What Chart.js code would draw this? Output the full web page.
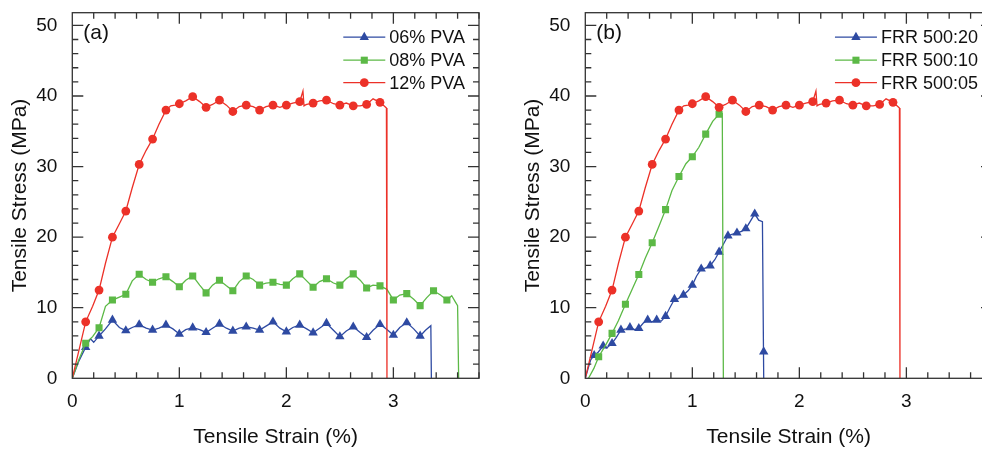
<!DOCTYPE html>
<html>
<head>
<meta charset="utf-8">
<script src="https://cdn.jsdelivr.net/npm/chart.js@4.4.1/dist/chart.umd.min.js"></script>
<style>
  html, body { margin: 0; padding: 0; background: #fff; }
  body { width: 982px; height: 450px; overflow: hidden; position: relative; }
  .panel { position: absolute; top: 0; width: 491px; height: 450px; }
</style>
</head>
<body>
<div class="panel" style="left:0"><canvas id="chartA" width="491" height="450"></canvas></div>
<div class="panel" style="left:513px"><canvas id="chartB" width="491" height="450"></canvas></div>
<script>
// 12% PVA  /  FRR 500:05 (same curve in both panels)
const redMarkX = [0.125, 0.25, 0.375, 0.5, 0.625, 0.75, 0.875, 1.0, 1.125, 1.25, 1.375, 1.5, 1.625, 1.75, 1.875, 2.0, 2.125, 2.25, 2.375, 2.5, 2.625, 2.75, 2.875];
const redMarkY = [8.0, 12.5, 20.0, 23.7, 30.3, 33.9, 38.0, 38.9, 39.9, 38.4, 39.4, 37.8, 38.7, 38.0, 38.7, 38.7, 39.2, 39.0, 39.4, 38.7, 38.6, 38.8, 39.1];
const redLineX = [0, 0.125, 0.19, 0.25, 0.31, 0.375, 0.44, 0.5, 0.56, 0.625, 0.69, 0.75, 0.81, 0.875, 0.92, 0.96, 1.0, 1.06, 1.125, 1.19, 1.25, 1.31, 1.375, 1.44, 1.5, 1.56, 1.625, 1.69, 1.75, 1.81, 1.875, 1.94, 2.0, 2.06, 2.125, 2.155, 2.165, 2.175, 2.19, 2.25, 2.31, 2.375, 2.44, 2.5, 2.56, 2.625, 2.69, 2.75, 2.81, 2.875, 2.92, 2.935, 2.94];
const redLineY = [0, 8.0, 10.2, 12.5, 16.3, 20.0, 21.9, 23.7, 27.0, 30.3, 32.3, 33.9, 36.0, 38.0, 38.6, 38.7, 38.9, 39.3, 39.9, 39.2, 38.4, 38.8, 39.4, 38.7, 37.8, 38.5, 38.7, 38.5, 38.0, 38.5, 38.7, 38.4, 38.7, 39.0, 39.2, 40.7, 38.6, 38.7, 38.8, 39.0, 39.3, 39.4, 38.9, 38.7, 39.0, 38.6, 38.6, 38.8, 39.6, 39.1, 38.5, 38.3, 0];

// 08% PVA
const pva08MarkX = [0.125, 0.25, 0.375, 0.5, 0.625, 0.75, 0.875, 1.0, 1.125, 1.25, 1.375, 1.5, 1.625, 1.75, 1.875, 2.0, 2.125, 2.25, 2.375, 2.5, 2.625, 2.75, 2.875, 3.0, 3.125, 3.25, 3.375, 3.5];
const pva08MarkY = [4.96, 7.17, 11.09, 11.9, 14.73, 13.6, 14.4, 12.97, 14.5, 12.1, 13.9, 12.4, 14.5, 13.2, 13.6, 13.2, 14.8, 12.9, 14.1, 13.2, 14.8, 12.8, 13.1, 11.1, 12.0, 10.3, 12.4, 11.1];
const pva08LineX = [0, 0.06, 0.125, 0.19, 0.25, 0.31, 0.375, 0.44, 0.5, 0.56, 0.625, 0.69, 0.75, 0.81, 0.875, 0.94, 1.0, 1.06, 1.125, 1.19, 1.25, 1.31, 1.375, 1.44, 1.5, 1.56, 1.625, 1.69, 1.75, 1.81, 1.875, 1.94, 2.0, 2.06, 2.125, 2.19, 2.25, 2.31, 2.375, 2.44, 2.5, 2.56, 2.625, 2.69, 2.75, 2.81, 2.875, 2.94, 3.0, 3.06, 3.125, 3.19, 3.25, 3.31, 3.375, 3.44, 3.5, 3.545, 3.58, 3.6, 3.61];
const pva08LineY = [0, 2.6, 4.96, 5.9, 7.17, 10.2, 11.09, 11.5, 11.9, 13.8, 14.73, 14.0, 13.6, 14.1, 14.4, 13.7, 12.97, 13.9, 14.5, 13.2, 12.1, 13.2, 13.9, 13.1, 12.4, 13.7, 14.5, 14.0, 13.2, 13.5, 13.6, 13.3, 13.2, 14.1, 14.8, 13.8, 12.9, 13.7, 14.1, 13.5, 13.2, 14.1, 14.8, 13.9, 12.8, 13.2, 13.1, 12.6, 11.1, 11.8, 12.0, 11.2, 10.3, 11.4, 12.4, 11.8, 11.1, 11.7, 10.8, 10.3, 0];

// 06% PVA
const pva06MarkX = [0.125, 0.25, 0.375, 0.5, 0.625, 0.75, 0.875, 1.0, 1.125, 1.25, 1.375, 1.5, 1.625, 1.75, 1.875, 2.0, 2.125, 2.25, 2.375, 2.5, 2.625, 2.75, 2.875, 3.0, 3.125, 3.25];
const pva06MarkY = [4.4, 6.0, 8.26, 6.75, 7.6, 6.84, 7.55, 6.27, 7.17, 6.5, 7.7, 6.7, 7.3, 6.84, 8.0, 6.6, 7.55, 6.46, 7.8, 5.9, 7.3, 5.8, 7.65, 6.13, 7.9, 6.0];
const pva06LineX = [0, 0.06, 0.125, 0.17, 0.2, 0.25, 0.31, 0.375, 0.44, 0.5, 0.56, 0.625, 0.69, 0.75, 0.81, 0.875, 0.94, 1.0, 1.06, 1.125, 1.19, 1.25, 1.31, 1.375, 1.44, 1.5, 1.56, 1.625, 1.69, 1.75, 1.81, 1.875, 1.94, 2.0, 2.06, 2.125, 2.19, 2.25, 2.31, 2.375, 2.44, 2.5, 2.56, 2.625, 2.69, 2.75, 2.81, 2.875, 2.94, 3.0, 3.06, 3.125, 3.19, 3.25, 3.3, 3.35, 3.355];
const pva06LineY = [0, 2.4, 4.4, 5.6, 5.1, 6.0, 7.0, 8.26, 7.2, 6.75, 7.2, 7.6, 7.1, 6.84, 7.1, 7.55, 7.0, 6.27, 6.9, 7.17, 6.9, 6.5, 7.1, 7.7, 7.1, 6.7, 7.1, 7.3, 7.1, 6.84, 7.4, 8.0, 7.1, 6.6, 7.2, 7.55, 7.0, 6.46, 7.1, 7.8, 6.8, 5.9, 6.7, 7.3, 6.5, 5.8, 6.8, 7.65, 6.9, 6.13, 7.2, 7.9, 7.0, 6.0, 6.8, 7.45, 0];

// FRR 500:10
const frr10MarkX = [0.125, 0.25, 0.375, 0.5, 0.625, 0.75, 0.875, 1.0, 1.125, 1.25];
const frr10MarkY = [3.06, 6.37, 10.5, 14.7, 19.2, 23.9, 28.6, 31.4, 34.6, 37.4];
const frr10LineX = [0.03, 0.08, 0.125, 0.19, 0.25, 0.31, 0.375, 0.44, 0.5, 0.56, 0.625, 0.69, 0.75, 0.81, 0.875, 0.94, 1.0, 1.06, 1.125, 1.19, 1.25, 1.28, 1.29];
const frr10LineY = [0, 1.4, 3.06, 4.7, 6.37, 8.2, 10.5, 12.7, 14.7, 17.0, 19.2, 21.6, 23.9, 26.6, 28.6, 30.4, 31.4, 32.7, 34.6, 36.4, 37.4, 37.5, 0];

// FRR 500:20
const frr20MarkX = [0.083, 0.167, 0.25, 0.333, 0.417, 0.5, 0.583, 0.667, 0.75, 0.833, 0.917, 1.0, 1.083, 1.167, 1.25, 1.333, 1.417, 1.5, 1.583, 1.667];
const frr20MarkY = [3.26, 4.6, 4.96, 6.84, 7.2, 7.08, 8.26, 8.26, 8.8, 11.2, 11.8, 13.2, 15.5, 15.95, 17.9, 20.2, 20.6, 21.2, 23.3, 3.77];
const frr20LineX = [0, 0.03, 0.05, 0.083, 0.12, 0.167, 0.2, 0.25, 0.29, 0.333, 0.38, 0.417, 0.46, 0.5, 0.54, 0.583, 0.62, 0.667, 0.71, 0.75, 0.79, 0.833, 0.87, 0.917, 0.96, 1.0, 1.04, 1.083, 1.12, 1.167, 1.21, 1.25, 1.29, 1.333, 1.37, 1.417, 1.46, 1.5, 1.54, 1.583, 1.62, 1.655, 1.667];
const frr20LineY = [0, 1.6, 2.6, 3.26, 3.7, 4.6, 4.3, 4.96, 5.8, 6.84, 7.0, 7.2, 6.9, 7.08, 7.8, 8.26, 8.0, 8.26, 8.1, 8.8, 10.0, 11.2, 11.3, 11.8, 12.4, 13.2, 14.5, 15.5, 15.6, 15.95, 16.8, 17.9, 19.0, 20.2, 20.4, 20.6, 20.8, 21.2, 22.2, 23.3, 22.4, 22.2, 0];

const labelsA = ['06% PVA', '08% PVA', '12% PVA'];
const labelsB = ['FRR 500:20', 'FRR 500:10', 'FRR 500:05'];
const xTicksStep = 1, yTicksStep = 10;

const FONT = '"Liberation Sans", Arial, Helvetica, sans-serif';
const RED = '#ec3128', GREEN = '#5cb946', BLUE = '#2e4aa2';
const STYLE = {
    red: { color: RED, style: 'circle', radius: 4.4 },
    green: { color: GREEN, style: 'rect', radius: 5 },
    blue: { color: BLUE, style: 'triangle', radius: 5.4 }
};

function pts(xs, ys) {
    return xs.map((x, i) => ({ x: x, y: ys[i] }));
}

// markers first so they sit on top of their own line
function series(lineX, lineY, markX, markY, s) {
    return [{
        data: pts(markX, markY),
        showLine: false,
        pointStyle: s.style,
        pointRadius: s.radius,
        pointBackgroundColor: s.color,
        pointBorderColor: s.color,
        pointBorderWidth: 0
    }, {
        data: pts(lineX, lineY),
        showLine: true,
        borderColor: s.color,
        borderWidth: 1.3,
        pointRadius: 0,
        tension: 0
    }];
}

const deco = {
    id: 'deco',
    afterDatasetsDraw(chart, args, opts) {
        const { ctx, chartArea: a, scales: { x, y } } = chart;
        ctx.save();
        ctx.strokeStyle = '#333';
        ctx.lineWidth = 1.3;
        ctx.strokeRect(a.left, a.top, a.right - a.left, a.bottom - a.top);

        // inward ticks on all four sides
        ctx.beginPath();
        for (let i = 1; i <= 19; i++) {
            const px = x.getPixelForValue(i * 0.2);
            const len = i % 5 === 0 ? 11 : 6;
            ctx.moveTo(px, a.bottom); ctx.lineTo(px, a.bottom - len);
            ctx.moveTo(px, a.top); ctx.lineTo(px, a.top + len);
        }
        for (let i = 1; i <= 25; i++) {
            const py = y.getPixelForValue(i * 2);
            const len = i % 5 === 0 ? 11 : 6;
            ctx.moveTo(a.left, py); ctx.lineTo(a.left + len, py);
            ctx.moveTo(a.right, py); ctx.lineTo(a.right - len, py);
        }
        ctx.stroke();

        // panel label
        ctx.fillStyle = '#111';
        ctx.font = '21px ' + FONT;
        ctx.textBaseline = 'middle';
        ctx.textAlign = 'left';
        ctx.fillText(opts.label, a.left + 11, a.top + 21);

        // legend: line + marker + text, right aligned
        ctx.font = '18px ' + FONT;
        const w = Math.max(...opts.items.map(it => ctx.measureText(it.text).width));
        const tx = a.right - 14 - w;
        const rows = [24.5, 47.5, 70];
        opts.items.forEach((it, i) => {
            const ry = a.top + rows[i];
            ctx.strokeStyle = it.color;
            ctx.lineWidth = 1.3;
            ctx.beginPath();
            ctx.moveTo(tx - 46, ry);
            ctx.lineTo(tx - 4, ry);
            ctx.stroke();
            ctx.fillStyle = it.color;
            Chart.helpers.drawPoint(ctx, { pointStyle: it.style, radius: it.radius, rotation: 0, borderWidth: 0 }, tx - 25, ry);
            ctx.fillStyle = '#111';
            ctx.fillText(it.text, tx, ry + 1);
        });
        ctx.restore();
    }
};

function makeChart(id, datasets, label, texts) {
    const order = [STYLE.blue, STYLE.green, STYLE.red];
    return new Chart(document.getElementById(id), {
        type: 'scatter',
        data: { datasets: datasets },
        options: {
            responsive: false,
            animation: false,
            events: [],
            layout: { padding: { left: 0, right: 12, top: 12.7, bottom: 0 } },
            plugins: {
                legend: { display: false },
                tooltip: { enabled: false },
                deco: { label: label, items: texts.map((t, i) => Object.assign({ text: t }, order[i])) }
            },
            scales: {
                x: {
                    type: 'linear', min: 0, max: 3.8,
                    afterFit: s => { s.height = 71.7; s.paddingLeft = 0; s.paddingRight = 0; },
                    grid: { display: false, drawTicks: false },
                    border: { display: false },
                    ticks: { stepSize: xTicksStep, includeBounds: false, padding: 12, color: '#111', font: { size: 19, family: FONT } },
                    title: { display: true, text: 'Tensile Strain (%)', color: '#111', font: { size: 21, family: FONT }, padding: { top: 0, bottom: 0 } }
                },
                y: {
                    type: 'linear', min: 0, max: 51.8,
                    afterFit: s => { s.width = 72.3; s.paddingTop = 0; s.paddingBottom = 0; },
                    grid: { display: false, drawTicks: false },
                    border: { display: false },
                    ticks: { stepSize: yTicksStep, includeBounds: false, padding: 15, color: '#111', font: { size: 19, family: FONT } },
                    title: { display: true, text: 'Tensile Stress (MPa)', color: '#111', font: { size: 21, family: FONT }, padding: { top: 7.4, bottom: 0 } }
                }
            }
        },
        plugins: [deco]
    });
}

makeChart('chartA', [
    ...series(redLineX, redLineY, redMarkX, redMarkY, STYLE.red),
    ...series(pva08LineX, pva08LineY, pva08MarkX, pva08MarkY, STYLE.green),
    ...series(pva06LineX, pva06LineY, pva06MarkX, pva06MarkY, STYLE.blue)
], '(a)', labelsA);

makeChart('chartB', [
    ...series(redLineX, redLineY, redMarkX, redMarkY, STYLE.red),
    ...series(frr10LineX, frr10LineY, frr10MarkX, frr10MarkY, STYLE.green),
    ...series(frr20LineX, frr20LineY, frr20MarkX, frr20MarkY, STYLE.blue)
], '(b)', labelsB);
</script>
</body>
</html>
